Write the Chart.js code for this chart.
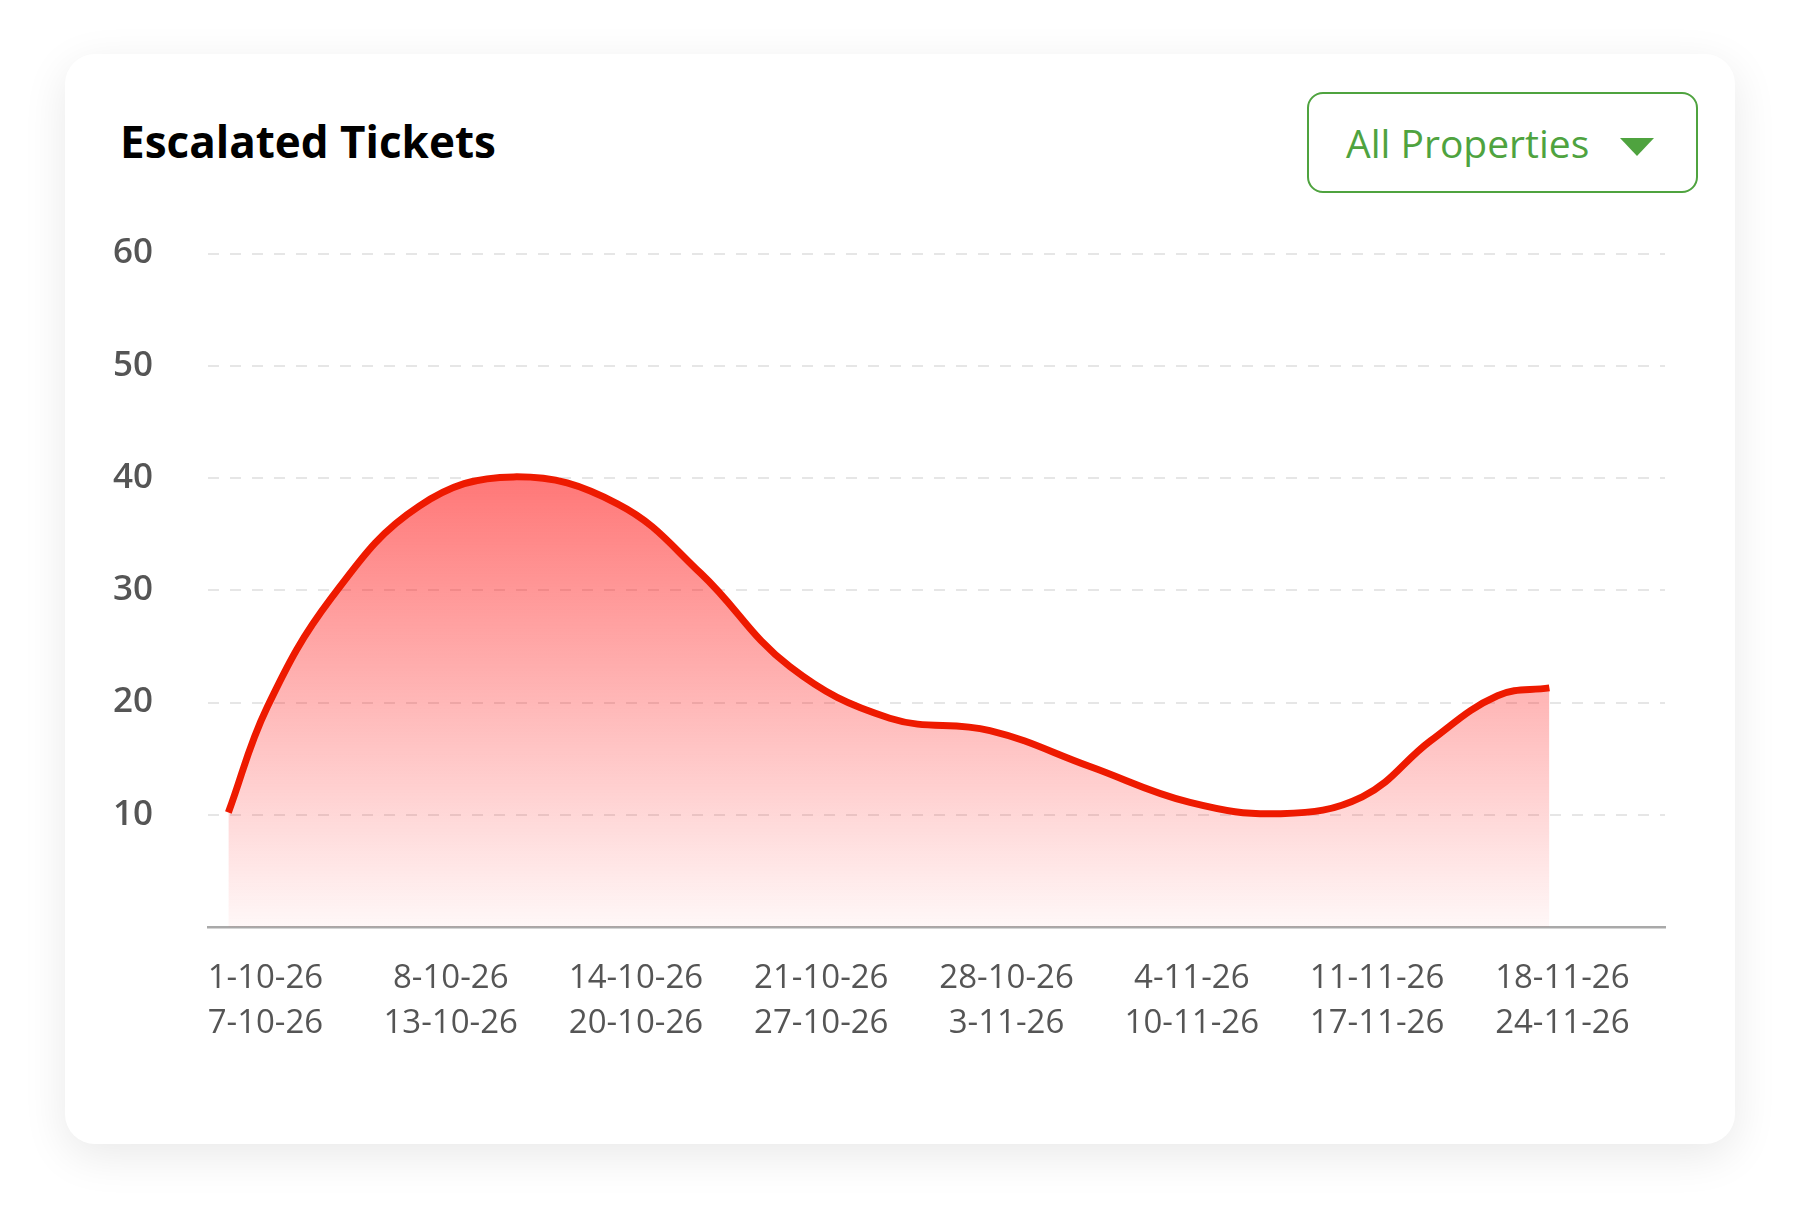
<!DOCTYPE html>
<html>
<head>
<meta charset="utf-8">
<title>Escalated Tickets</title>
<script src="https://cdn.jsdelivr.net/npm/chart.js@4.4.1/dist/chart.umd.min.js"></script>
<style>
  html, body { margin: 0; padding: 0; background: #fff; }
  body { width: 1800px; height: 1221px; position: relative; overflow: hidden; font-family: 'Open Sans', sans-serif; }
  .card { position: absolute; left: 65px; top: 54px; width: 1670px; height: 1090px; background: #fff;
          border-radius: 30px; box-shadow: 0 12px 45px rgba(0, 0, 0, 0.09); }
  .title { position: absolute; left: 120px; top: 119px; margin: 0; font-size: 44px; line-height: 44px;
           font-weight: 700; color: #000; }
  .filter { position: absolute; left: 1307px; top: 92px; width: 391px; height: 101px; box-sizing: border-box;
            border: 2.5px solid #4fa33f; border-radius: 16px; color: #4fa33f; }
  .filter span { position: absolute; left: 37px; top: 29px; font-size: 39px; line-height: 39px; white-space: nowrap; }
  .filter i { position: absolute; left: 311px; top: 44px; width: 0; height: 0;
              border-left: 17px solid transparent; border-right: 17px solid transparent; border-top: 18px solid #4fa33f; }
  #chart { position: absolute; left: 60px; top: 200px; }
</style>
</head>
<body>
<div class="card"></div>
<h1 class="title">Escalated Tickets</h1>
<div class="filter"><span>All Properties</span><i></i></div>
<canvas id="chart" width="1640" height="847"></canvas>
<script>
// week ranges shown under the x axis (two lines per tick)
const weekStarts = ['1-10-26', '8-10-26', '14-10-26', '21-10-26', '28-10-26', '4-11-26', '11-11-26', '18-11-26'];
const weekEnds = ['7-10-26', '13-10-26', '20-10-26', '27-10-26', '3-11-26', '10-11-26', '17-11-26', '24-11-26'];

// line points, x measured in weeks (0 = first week label)
const pointWeeks = [-0.20, 0.01, 0.36, 0.83, 1.34, 1.90, 2.35, 2.83, 3.37, 3.91, 4.45, 4.99, 5.48, 5.92, 6.29, 6.65, 6.93];
const ticketCounts = [10.2, 19.6, 29.4, 37.5, 40.1, 37.7, 31.5, 23.2, 18.6, 17.5, 14.3, 11.1, 10.1, 11.6, 16.6, 20.6, 21.3];

const yMax = 60;
const yStep = 10;

document.addEventListener('DOMContentLoaded', function () {
    Chart.defaults.font.family = "'Open Sans', sans-serif";
    Chart.defaults.color = '#555';

    const ctx = document.getElementById('chart').getContext('2d');

    function fillGradient(context) {
        const { ctx, chartArea } = context.chart;
        if (!chartArea) return null;
        const g = ctx.createLinearGradient(0, chartArea.top, 0, chartArea.bottom);
        g.addColorStop(0, 'rgba(255, 20, 20, 0.85)');
        g.addColorStop(1, 'rgba(255, 20, 20, 0.03)');
        return g;
    }

    new Chart(ctx, {
        type: 'line',
        data: {
            datasets: [{
                label: 'Escalated Tickets',
                data: pointWeeks.map((x, i) => ({ x: x, y: ticketCounts[i] })),
                borderColor: '#ee1a00',
                borderWidth: 7,
                backgroundColor: fillGradient,
                fill: 'origin',
                pointRadius: 0,
                tension: 0.4
            }]
        },
        options: {
            responsive: false,
            animation: false,
            layout: { padding: { top: 53.5, right: 35, bottom: 0, left: 0 } },
            plugins: {
                legend: { display: false },
                tooltip: { enabled: false }
            },
            scales: {
                x: {
                    type: 'linear',
                    min: -0.31,
                    max: 7.554,
                    z: 1,
                    afterBuildTicks: (scale) => {
                        scale.ticks = weekStarts.map((_, i) => ({ value: i }));
                    },
                    afterFit: (scale) => { scale.height = 120; },
                    grid: { display: false, drawTicks: false, tickLength: 0 },
                    border: { display: true, color: '#a9a9a9', width: 2.5 },
                    ticks: {
                        autoSkip: false,
                        maxRotation: 0,
                        padding: 29,
                        color: '#555',
                        font: { size: 33, weight: '400', lineHeight: 1.36 },
                        callback: (value) => {
                            const i = Math.round(value);
                            return [weekStarts[i], weekEnds[i]];
                        }
                    }
                },
                y: {
                    min: 0,
                    max: yMax,
                    afterFit: (scale) => {
                        // fixed axis width; the large tick padding should not push the chart area down
                        scale.width = 148;
                        scale.paddingTop = 0;
                        scale.paddingBottom = 0;
                    },
                    grid: {
                        drawTicks: false,
                        tickLength: 0,
                        lineWidth: 2,
                        color: (c) => (c.tick && c.tick.value === 0 ? 'rgba(0,0,0,0)' : '#e6e6e6')
                    },
                    border: { display: false, dash: [11, 11] },
                    ticks: {
                        stepSize: yStep,
                        padding: 55,
                        color: '#555',
                        font: { size: 35, weight: '600' },
                        callback: (value) => (value === 0 ? '' : value)
                    }
                }
            }
        }
    });
});
</script>
</body>
</html>
